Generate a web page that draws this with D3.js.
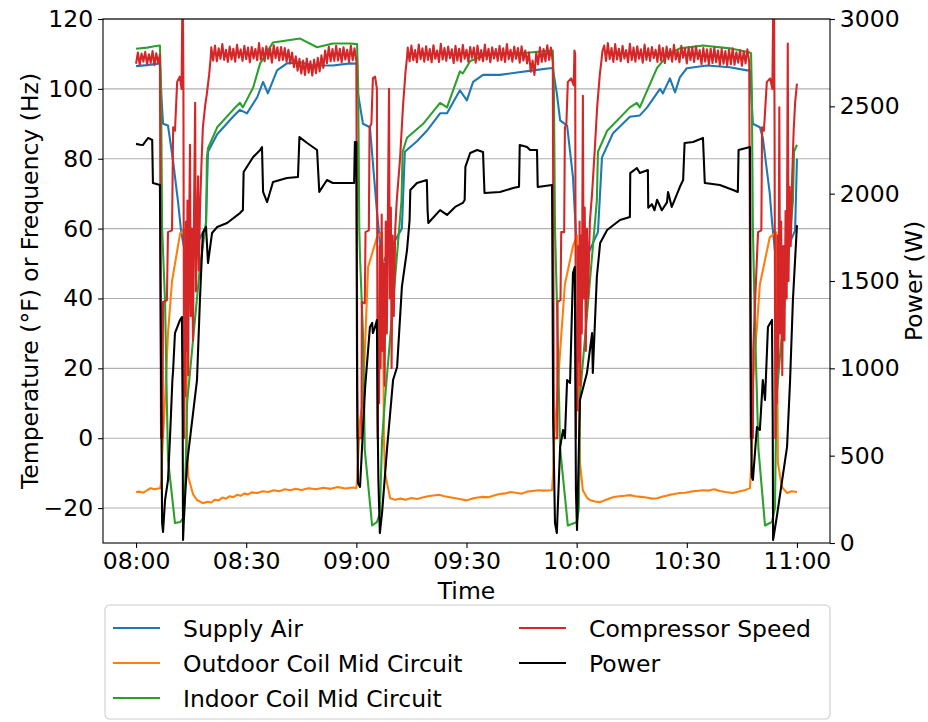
<!DOCTYPE html>
<html>
<head>
<meta charset="utf-8">
<script src="https://cdn.jsdelivr.net/npm/d3@7"></script>
<style>
  body { margin: 0; background: #ffffff; }
  svg text { font-family: "DejaVu Sans", sans-serif; }
</style>
</head>
<body>
<svg id="chart" width="928" height="722"></svg>
<script>
// ---- data: time in minutes after 08:00 ----
const timeTicks = [0, 30, 60, 90, 120, 150, 180];
const timeTickLabels = ["08:00", "08:30", "09:00", "09:30", "10:00", "10:30", "11:00"];
const tempTicks = [-20, 0, 20, 40, 60, 80, 100, 120];
const powerTicks = [0, 500, 1000, 1500, 2000, 2500, 3000];

const seriesNames = ["Supply Air", "Outdoor Coil Mid Circuit", "Indoor Coil Mid Circuit", "Compressor Speed", "Power"];
const seriesColors = ["#1f77b4", "#ff7f0e", "#2ca02c", "#d62728", "#000000"];

// Supply air temperature (°F)
const supplyAir = [
  [0, 106.5], [3, 106.8], [6.5, 107.3], [6.9, 98], [7.35, 90], [8.7, 89.5], [10, 80], [11.4, 68], [12.3, 59], [13.9, 50],
  [19.0, 60.6], [19.6, 82], [22.1, 87], [26.4, 92], [28.3, 94], [30.2, 93], [33, 97.6], [34.6, 102], [35.9, 98.7],
  [38.4, 105.3], [41.1, 107.3], [44.7, 107.6], [48.2, 106.7], [53.6, 106.7], [58.3, 107.3], [60.2, 107.2],
  [60.45, 98.7], [61.8, 90], [63.7, 89], [65.6, 65], [67.0, 50], [72.4, 60], [73.2, 82], [76.5, 85], [79.2, 88],
  [82.8, 93], [84.7, 93], [88.2, 99.6], [90.1, 96.7], [91.8, 102], [94.5, 104], [99.1, 104], [103.8, 104.7],
  [108.1, 105.3], [112.7, 105.9], [113.5, 105.9],
  [114.6, 98.7], [115.5, 91], [117.4, 89.5], [119, 74.7], [120.4, 46.5], [125.8, 59], [126.9, 80.4], [129.9, 87.3],
  [134.5, 92], [137.2, 92.4], [139.2, 94.7], [142.7, 100], [143.5, 98.7], [145.4, 103], [146.8, 99], [148.1, 103.3],
  [150, 105.9], [155.5, 106.7], [161.7, 106.2], [166.4, 105.3], [167.2, 105.3],
  [168, 90], [169.9, 89], [170.7, 86], [172.6, 70], [173.2, 62], [174.6, 47.5], [179.5, 59.5], [180, 80]
];

// Outdoor coil mid-circuit temperature (°F)
const outdoorCoil = [
  [0, -15.4], [1, -15.3], [2, -15.6], [3, -14.9], [4, -14.3], [5, -14.6], [6, -14.4], [6.6, -14.3],
  [6.9, -12], [7.1, -5], [7.35, 0], [7.9, 11], [8.7, 30], [9.8, 45], [12, 58.6], [13.3, 60], [13.6, 40], [13.9, 0],
  [14.2, -11], [15.5, -16], [16.6, -17.7], [18.2, -18.6], [19.5, -18.2], [20.5, -18.4], [21.5, -17.6], [22.5, -17.8],
  [23.5, -17.0], [24.5, -17.3], [25.5, -16.6], [26.5, -16.9], [27.5, -16.2], [28.5, -16.5], [29.5, -15.8], [30.5, -16.1],
  [31.5, -15.5], [33, -15.7], [34.5, -15.2], [36, -15.4], [37.5, -14.9], [39, -15.2], [40.5, -14.6], [42, -14.9],
  [43.5, -14.5], [45, -14.8], [47, -14.3], [49, -14.6], [51, -14.2], [53, -14.5], [55, -14.0], [57, -14.4], [59, -14.1],
  [60.0, -14.3],
  [60.2, -12], [60.5, -5], [61, 5], [61.8, 11], [63.2, 49], [65.6, 57.5], [67, 59], [67.3, 40], [67.5, 0], [67.8, -10],
  [69.2, -17.2], [70.5, -17.6], [72, -17.3], [73.5, -17.6], [75, -17.1], [76.5, -17.4], [78, -17.0], [79.5, -16.6],
  [81, -16.4], [82.5, -16.2], [84, -16.6], [85.5, -16.9], [87, -17.2], [88.5, -17.5], [90, -17.8], [91.5, -17.3],
  [93, -17.0], [94.5, -16.8], [96, -16.9], [97.5, -16.4], [99, -16.0], [100.5, -15.8], [102, -15.4], [103.5, -15.6],
  [105, -15.9], [106.5, -15.3], [108, -15.1], [109.5, -14.9], [111, -15.0], [113.3, -14.9],
  [113.6, -10], [113.9, 0], [114.6, 10], [115.5, 25], [116.8, 44], [119, 55], [120.1, 58], [120.5, 30], [120.9, -7],
  [121.7, -15], [122.8, -17], [123.6, -17.7], [125, -18.1], [126.4, -18.3], [128, -17.6], [129.9, -16.9], [131.5, -16.6],
  [133, -16.5], [134.5, -16.3], [136, -16.6], [137.5, -16.8], [139, -17.0], [140.5, -17.3], [141.9, -17.2], [143.5, -16.7],
  [145, -16.3], [146.5, -16.0], [148.1, -15.7], [149.5, -15.6], [151, -15.3], [152.5, -15.1], [154.4, -14.9], [156, -15.0],
  [157.5, -14.6], [159, -15.1], [160.5, -15.4], [162.6, -15.7], [164.5, -15.2], [166, -14.8], [167.2, -14.3],
  [167.7, -5], [168, 15.7], [169.9, 44], [172.6, 57.5], [174.3, 59], [174.6, 30], [174.8, -7], [175.9, -14],
  [177.3, -15.7], [178.5, -15.2], [180, -15.4]
];

// Indoor coil mid-circuit temperature (°F)
const indoorCoil = [
  [0, 111.5], [3, 111.8], [5, 112.2], [6.5, 112.4], [6.8, 100], [7.1, 60], [7.9, 39], [8.4, 10], [8.7, -6],
  [10.6, -24.3], [12, -24], [13.1, -22.5], [13.6, -5], [13.9, 10], [17.4, 49], [19.1, 62], [19.3, 80.4], [19.6, 83],
  [22.1, 89], [26.4, 94], [28.3, 96], [29.1, 94.7], [31.9, 100.4], [33.8, 107.3], [37.3, 113.3], [44.7, 114.4],
  [49.3, 111.9], [53.6, 113], [58.3, 113], [60.2, 112.8],
  [60.5, 100], [60.8, 60], [61, 51.8], [61.8, 30], [62.3, -3.4], [64.3, -25], [65.6, -24], [66.4, -21.5], [67, -0.6],
  [67.8, 11], [72.3, 68], [72.6, 82], [73.8, 86], [78.2, 90], [82.8, 96], [84.7, 94.7], [88.2, 105], [89, 104.4],
  [91, 108], [96, 110], [102, 110.2], [107.3, 110.4], [113.3, 111], [113.5, 111],
  [113.8, 100], [114.1, 60], [114.6, 40], [115.5, -3], [117.6, -25], [120.1, -24], [120.6, -20], [120.9, 12],
  [125.5, 68], [125.8, 82], [128.3, 88], [134.5, 94.7], [136.4, 96], [137.2, 94.7], [141.9, 106], [143.5, 108],
  [144.9, 110], [148.1, 111.6], [154.4, 112.4], [161.7, 111.6], [167.2, 110.4], [167.5, 110.2],
  [167.7, 100], [168, 60], [168.5, 35], [169.5, -3], [171.3, -25], [173.2, -24], [174.0, -20], [174.4, 11],
  [178.9, 68], [179.2, 82], [180, 84]
];

// Compressor speed (Hz): steady runs sampled every half minute, then the defrost transitions
const speedRunStarts = [0, 20.5, 74.0, 127.0];
const speedRunStep = 0.5;
const speedRun1 = [107.2, 110.4, 106.9, 110.1, 107.8, 110.6, 107.0, 109.9, 107.5, 110.8, 106.8, 110.2, 107.4, 109.8];
const speedRun2 = [
  111.9, 108.1, 112.4, 107.9, 111.6, 108.6, 112.8, 108.3, 111.2, 107.7,
  112.1, 108.4, 111.5, 107.8, 112.6, 108.9, 111.3, 108.0, 112.3, 108.5,
  111.8, 107.6, 112.0, 108.7, 111.4, 108.2, 113.1, 108.4, 111.7, 107.9,
  112.2, 108.6, 111.6, 107.5, 112.5, 108.8, 111.9, 108.1, 112.0, 108.3,
  111.7, 107.8, 111.2, 107.3, 110.4, 106.2, 109.3, 105.2, 108.6, 104.4,
  108.1, 104.0, 108.7, 104.6, 107.9, 103.8, 108.4, 104.5, 108.9, 105.0,
  109.6, 106.0, 111.0, 107.4, 112.1, 107.9, 111.4, 108.0, 112.3, 108.1,
  111.5, 107.6, 111.9, 108.4, 111.2, 107.7, 112.4, 108.2, 111.6, 108.0
];
const speedRun3 = [
  111.8, 107.9, 112.4, 108.2, 111.1, 107.6, 112.7, 108.5, 111.6, 107.8,
  112.2, 108.3, 111.4, 107.6, 112.5, 108.6, 111.0, 107.7, 112.9, 108.4,
  111.7, 108.0, 112.1, 108.8, 111.3, 107.4, 112.3, 108.1, 111.5, 107.8,
  112.6, 108.6, 111.2, 107.7, 112.0, 108.9, 111.8, 107.5, 112.4, 108.3,
  111.1, 107.9, 112.7, 108.4, 111.5, 107.6, 111.9, 108.7, 111.4, 108.0,
  112.3, 108.2, 111.6, 107.7, 112.8, 108.5, 111.2, 107.8, 112.1, 108.6,
  111.7, 107.5, 112.2, 108.1, 111.0, 107.3, 110.5, 104.9, 108.1, 104.0,
  110.3, 107.0, 111.9, 107.7, 111.4, 107.9, 112.5, 108.3, 111.8, 107.6
];
const speedRun4 = [
  110.7, 112.4, 108.0, 113.1, 108.5, 111.7, 107.7, 112.8, 108.4, 111.5,
  107.9, 112.3, 108.7, 111.1, 107.6, 112.9, 108.2, 111.8, 107.8, 112.2,
  108.6, 111.3, 107.5, 112.7, 108.3, 111.6, 108.0, 112.0, 108.8, 111.2,
  107.7, 112.5, 108.1, 111.7, 107.4, 112.1, 108.5, 111.4, 107.8, 112.6,
  108.4, 111.0, 107.6, 112.3, 108.9, 111.5, 107.3, 111.9, 108.2, 111.8,
  107.7, 112.2, 108.5, 111.1, 107.1, 111.7, 107.8, 111.3, 107.0, 111.5,
  107.4, 111.8, 107.6, 111.0, 106.8, 111.4, 107.2, 110.8, 106.7, 111.2,
  107.1, 111.6, 106.9, 110.5, 107.5, 111.1, 106.6, 110.7, 107.3, 111.3, 107.7
];
const speedDefrost1 = [
  [6.8, 0], [7.2, 0], [7.35, 39], [8.4, 39.5], [8.7, 59], [9.8, 59.5], [10.1, 89], [10.6, 88], [11.2, 102], [11.9, 103.5],
  [12.4, 100], [12.7, 136], [12.9, 100], [13.1, 0], [13.3, 40], [13.45, 12], [13.6, 62], [13.8, 25], [14.0, 68], [14.2, 18],
  [14.4, 55], [14.7, 84], [14.9, 35], [15.2, 60], [15.5, 28], [15.8, 66], [16.1, 96], [16.3, 42], [16.6, 58], [16.9, 75],
  [17.1, 48], [17.4, 65], [17.8, 78], [18.2, 89], [18.8, 95], [19.3, 98.7], [19.9, 104], [20.3, 108.5]
];
const speedDefrost2 = [
  [60.3, 0], [61.4, 0], [61.5, 39], [62.3, 38.6], [62.5, 59], [63.4, 59.5], [63.6, 89], [64.1, 90], [64.5, 103], [65.1, 103.5],
  [65.6, 100], [65.8, 0], [66.0, 35], [66.2, 10], [66.4, 55], [66.6, 20], [66.9, 64], [67.1, 25], [67.4, 50], [67.7, 15],
  [68.0, 62], [68.3, 30], [68.9, 100], [69.1, 40], [69.4, 66], [69.6, 20], [69.9, 58], [70.2, 35], [70.6, 60], [71.0, 68],
  [71.9, 80], [72.7, 95], [73.4, 105], [73.8, 109]
];
const speedDefrost3 = [
  [113.8, 0], [114.7, 0], [114.8, 39], [115.6, 39.5], [115.8, 59], [116.6, 59], [116.8, 89], [117.2, 90], [117.6, 102],
  [118.5, 103], [119.2, 101], [119.4, 111], [119.6, 110], [119.8, 0], [120.0, 30], [120.2, 8], [120.4, 55], [120.6, 22],
  [120.8, 62], [121.0, 15], [121.2, 58], [121.4, 30], [121.7, 98], [121.9, 40], [122.2, 66], [122.5, 25], [122.8, 60],
  [123.1, 40], [123.6, 62], [124.2, 70], [124.9, 82], [125.6, 95], [126.3, 104], [126.8, 108.5]
];
const speedDefrost4 = [
  [167.4, 0], [168.0, 0], [168.1, 25], [168.6, 39], [169.4, 59], [170.3, 59.5], [170.5, 89], [171.0, 88], [171.8, 102],
  [172.7, 103], [173.3, 100], [173.7, 140], [173.9, 90], [174.1, 0], [174.3, 35], [174.5, 10], [174.7, 58], [174.9, 20],
  [175.2, 94.7], [175.4, 30], [175.7, 62], [176.0, 18], [176.3, 55], [176.6, 28], [176.9, 65], [177.2, 40], [177.5, 113],
  [177.7, 45], [178.0, 72], [178.3, 55], [178.7, 75], [179.1, 88], [179.5, 96], [180, 101.5]
];

// Power (W)
const power = [
  [0, 2285], [1.1, 2280], [1.9, 2279], [2.6, 2300], [3.3, 2319], [4.4, 2307], [4.6, 2061], [6.5, 2050],
  [6.8, 1000], [7.1, 114], [7.35, 63], [7.9, 246], [8.7, 360], [9.3, 630], [9.9, 933], [10.1, 990], [10.6, 1202],
  [11.98, 1277], [12.5, 1294], [12.7, 700], [12.8, 17], [13.1, 172], [13.9, 458], [16.6, 933], [17.4, 1391],
  [18.2, 1775], [19.06, 1809], [19.6, 1603], [20.7, 1775], [22.1, 1809], [24.8, 1832], [28.3, 1889], [29.1, 1906],
  [29.3, 2124], [31.9, 2210], [33.0, 2233], [33.8, 2250], [34.3, 2267], [34.6, 2010], [35.7, 1952], [37.3, 2067],
  [41.1, 2090], [44.1, 2095], [44.5, 2324], [46.6, 2290], [49.3, 2250], [49.9, 2010], [52.0, 2078], [53.6, 2061],
  [58.3, 2061], [59.4, 2061], [59.6, 2296], [60.0, 2296],
  [60.2, 900], [60.45, 343], [61.0, 321], [62.4, 893], [63.7, 1237], [64.3, 1260], [64.5, 1202], [65.1, 1237],
  [65.6, 1277], [65.8, 700], [66.0, 361], [66.4, 57], [67.0, 172], [68.4, 550], [70.0, 933], [71.1, 1008],
  [72.4, 1466], [73.8, 1677], [74.5, 1849], [74.7, 2021], [76.5, 2061], [79.2, 2078], [79.4, 1906], [79.6, 1832],
  [82.8, 1906], [84.7, 1878], [86.9, 1924], [89.0, 1947], [89.5, 1964], [89.7, 2153], [91.0, 2233], [92.9, 2250],
  [94.5, 2239], [94.9, 2004], [99.1, 2010], [102.7, 2032], [104.3, 2040], [104.5, 2279], [106.5, 2267], [107.3, 2250],
  [109.2, 2250], [109.4, 2038], [113.3, 2050],
  [113.6, 700], [114.1, 114], [114.6, 57], [115.5, 550], [116.3, 647], [116.8, 600], [117.4, 933], [118.2, 916],
  [119.0, 1546], [119.5, 1580], [119.8, 300], [120.1, 74], [120.9, 819], [122.8, 973], [124.2, 1202], [124.4, 973],
  [125.5, 1523], [126.4, 1718], [128.3, 1792], [131.8, 1849], [134.5, 1866], [134.6, 2118], [136.4, 2147],
  [137.2, 2118], [139.4, 2135], [139.5, 1920], [140.5, 1940], [141.2, 1905], [141.9, 1965], [143.2, 1905],
  [144.6, 1950], [144.9, 2010], [145.9, 1924], [148.1, 2038], [149.0, 2078], [149.4, 2290], [151.7, 2296],
  [154.4, 2319], [154.9, 2061], [159.0, 2050], [162.6, 2021], [163.9, 2010], [164.1, 2250], [167.2, 2267],
  [167.5, 700], [167.7, 378], [168.0, 361], [169.1, 664], [169.9, 647], [170.7, 933], [171.3, 819], [172.1, 1237],
  [173.2, 1277], [173.4, 700], [173.5, 17], [174.5, 149], [177.3, 550], [178.1, 916], [178.9, 1391], [180.0, 1820]
];

// ---- assemble compressor speed series ----
const speedRuns = [speedRun1, speedRun2, speedRun3, speedRun4];
const speedDefrosts = [speedDefrost1, speedDefrost2, speedDefrost3, speedDefrost4];
const compressorSpeed = [];
speedRuns.forEach((run, k) => {
  run.forEach((v, i) => compressorSpeed.push([speedRunStarts[k] + i * speedRunStep, v]));
  speedDefrosts[k].forEach(p => compressorSpeed.push(p));
});

// ---- layout ----
const fontSize = 23.5;
const lineW = 2.08;
const plot = { left: 103, right: 830, top: 19, bottom: 543 };

const svg = d3.select("#chart");

const x = d3.scaleLinear().domain([-9, 189]).range([plot.left, plot.right]);
const yT = d3.scaleLinear().domain([-30, 120]).range([plot.bottom, plot.top]);
const yP = d3.scaleLinear().domain([0, 3000]).range([plot.bottom, plot.top]);

svg.append("defs").append("clipPath").attr("id", "plotClip")
  .append("rect")
  .attr("x", plot.left).attr("y", plot.top)
  .attr("width", plot.right - plot.left).attr("height", plot.bottom - plot.top);

// horizontal grid on the temperature axis
svg.append("g").selectAll("line").data(tempTicks).join("line")
  .attr("x1", plot.left).attr("x2", plot.right)
  .attr("y1", d => yT(d)).attr("y2", d => yT(d))
  .attr("stroke", "#b0b0b0").attr("stroke-width", 1.1);

const lineT = d3.line().x(d => x(d[0])).y(d => yT(d[1]));
const lineP = d3.line().x(d => x(d[0])).y(d => yP(d[1]));

const lines = svg.append("g").attr("clip-path", "url(#plotClip)");
[supplyAir, outdoorCoil, indoorCoil, compressorSpeed].forEach((s, i) => {
  lines.append("path").datum(s)
    .attr("d", lineT)
    .attr("fill", "none")
    .attr("stroke", seriesColors[i])
    .attr("stroke-width", lineW)
    .attr("stroke-linejoin", "round")
    .attr("stroke-linecap", "butt");
});
lines.append("path").datum(power)
  .attr("d", lineP)
  .attr("fill", "none")
  .attr("stroke", seriesColors[4])
  .attr("stroke-width", lineW)
  .attr("stroke-linejoin", "round");

// frame
svg.append("rect")
  .attr("x", plot.left).attr("y", plot.top)
  .attr("width", plot.right - plot.left).attr("height", plot.bottom - plot.top)
  .attr("fill", "none").attr("stroke", "#000").attr("stroke-width", 1.1);

const tickLen = 4.9, tickPad = 4.9;
function styleAxis(g) {
  g.select(".domain").remove();
  g.selectAll(".tick line").attr("stroke", "#000").attr("stroke-width", 1.1);
  g.selectAll(".tick text").attr("font-size", fontSize).attr("fill", "#000")
    .attr("font-family", "DejaVu Sans, sans-serif");
}

svg.append("g").attr("transform", `translate(0,${plot.bottom})`)
  .call(d3.axisBottom(x).tickValues(timeTicks).tickFormat((d, i) => timeTickLabels[i])
    .tickSize(tickLen).tickPadding(tickPad))
  .call(styleAxis);

svg.append("g").attr("transform", `translate(${plot.left},0)`)
  .call(d3.axisLeft(yT).tickValues(tempTicks).tickFormat(d => d < 0 ? "\u2212" + Math.abs(d) : String(d))
    .tickSize(tickLen).tickPadding(tickPad))
  .call(styleAxis);

svg.append("g").attr("transform", `translate(${plot.right},0)`)
  .call(d3.axisRight(yP).tickValues(powerTicks).tickFormat(d => String(d))
    .tickSize(tickLen).tickPadding(tickPad))
  .call(styleAxis);

// axis titles
svg.append("text").attr("x", (plot.left + plot.right) / 2).attr("y", 599)
  .attr("text-anchor", "middle").attr("font-size", fontSize).text("Time");
svg.append("text")
  .attr("transform", `translate(38,${(plot.top + plot.bottom) / 2}) rotate(-90)`)
  .attr("text-anchor", "middle").attr("font-size", fontSize)
  .text("Temperature (\u00B0F) or Frequency (Hz)");
svg.append("text")
  .attr("transform", `translate(922,${(plot.top + plot.bottom) / 2}) rotate(-90)`)
  .attr("text-anchor", "middle").attr("font-size", fontSize)
  .text("Power (W)");

// legend
const legend = svg.append("g");
legend.append("rect")
  .attr("x", 105).attr("y", 605).attr("width", 725).attr("height", 114)
  .attr("rx", 4.7).attr("ry", 4.7)
  .attr("fill", "#ffffff").attr("fill-opacity", 0.8)
  .attr("stroke", "#cccccc").attr("stroke-width", 1.1);
const legendCols = [{ hx: 113, tx: 183 }, { hx: 519, tx: 589 }];
const legendRows = [628, 663, 698];
seriesNames.forEach((name, i) => {
  const col = legendCols[i < 3 ? 0 : 1];
  const cy = legendRows[i < 3 ? i : i - 3];
  legend.append("line")
    .attr("x1", col.hx).attr("x2", col.hx + 47)
    .attr("y1", cy).attr("y2", cy)
    .attr("stroke", seriesColors[i]).attr("stroke-width", lineW);
  legend.append("text")
    .attr("x", col.tx).attr("y", cy + 0.365 * fontSize)
    .attr("font-size", fontSize).text(name);
});
</script>
</body>
</html>
